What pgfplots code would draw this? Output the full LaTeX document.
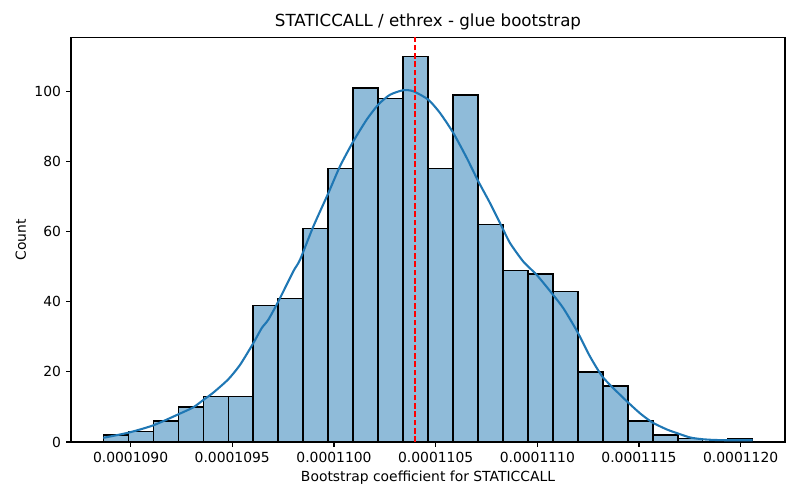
\documentclass[border=0pt]{standalone}
\usepackage{fontspec}
\setmainfont{DejaVu Sans}
\usepackage{pgfplots}
\pgfplotsset{compat=1.18}
\definecolor{mplblue}{HTML}{1F77B4}
\definecolor{histfill}{RGB}{143,187,217}
\definecolor{vred}{RGB}{230,20,20}
\begin{document}
\fontsize{10}{12}\selectfont
\begin{tikzpicture}
\path[use as bounding box] (-51.12pt,-41.76pt) rectangle (524.88pt,318.26pt);
\begin{axis}[
  at={(0,0)}, anchor=south west,
  scale only axis, width=514.08pt, height=291.4pt,
  xmin=-2.931, xmax=32.178, ymin=0, ymax=115.5,
  axis line style={line width=0.8pt},
  tick align=outside, major tick length=3.5pt,
  every tick/.style={black, line width=0.8pt},
  xtick pos=bottom, ytick pos=left,
  xtick={0,5,10,15,20,25,30},
  xticklabels={0.0001090,0.0001095,0.0001100,0.0001105,0.0001110,0.0001115,0.0001120},
  ytick={0,20,40,60,80,100},
  /pgf/number format/assume math mode=true,
  x tick label as interval=false,
  every tick label/.append style={font=\fontsize{10}{12}\selectfont, inner sep=0pt},
  xticklabel style={anchor=north, yshift=-3.5pt},
  yticklabel style={anchor=east, xshift=-3.5pt},
  clip=true,
]
\addplot[ybar interval, fill=histfill, draw=black, line width=1pt] coordinates {
(-1.342,2) (-0.114,3) (1.114,6) (2.343,10) (3.571,13) (4.799,13)
(6.027,39) (7.255,41) (8.484,61) (9.712,78) (10.940,101) (12.168,98)
(13.396,110) (14.625,78) (15.853,99) (17.081,62) (18.309,49) (19.537,48)
(20.766,43) (21.994,20) (23.222,16) (24.450,6) (25.678,2) (26.907,1)
(28.135,0) (29.363,1) (30.591,1)
};
\addplot[mplblue, line width=1.5pt, smooth, tension=0.4] coordinates {
(-1.342,1.2) (-0.113,2.66) (1.116,4.76) (2.345,7.9) (3.083,9.9) (3.575,12.0)
(4.067,14.1) (4.804,17.9) (5.379,22.0) (6.033,28.2) (6.446,32.5) (6.771,34.9)
(7.263,40.1) (8.000,48.7) (8.330,52)
(8.984,61.5) (9.721,71.0) (10.297,78.7) (10.951,85.8) (11.609,92) (12.180,96.3)
(12.755,99.1) (13.409,100.4) (13.901,100.1) (14.638,97.7) (15.214,93.9) (15.868,88.2)
(16.527,81.1) (17.097,74.4) (17.672,68.2) (18.248,61.5) (18.655,56.8) (19.309,51.5)
(19.968,47.7) (20.706,42.5) (21.276,38.2) (21.965,31.5) (22.590,24.4) (23.194,18.7)
(23.819,14.9) (24.424,11.5)
(25.048,8.2) (25.653,5.6) (26.361,3.6) (26.882,2.5) (27.507,1.3) (28.112,0.8)
(28.653,0.6) (29.341,0.5) (29.965,0.5) (30.591,0.5)
};
\addplot[red, line width=1.2pt, dash pattern=on 4pt off 2pt, forget plot] coordinates {(14.0,0) (14.0,115.5)};
\end{axis}
\node[anchor=base, font=\fontsize{12}{14}\selectfont] at (257.04pt,299pt) {STATICCALL / ethrex - glue bootstrap};
\node[anchor=base] at (257.04pt,-28.5pt) {Bootstrap coefficient for STATICCALL};
\node[anchor=base, rotate=90] at (-32.4pt,145.7pt) {Count};
\end{tikzpicture}
\end{document}
